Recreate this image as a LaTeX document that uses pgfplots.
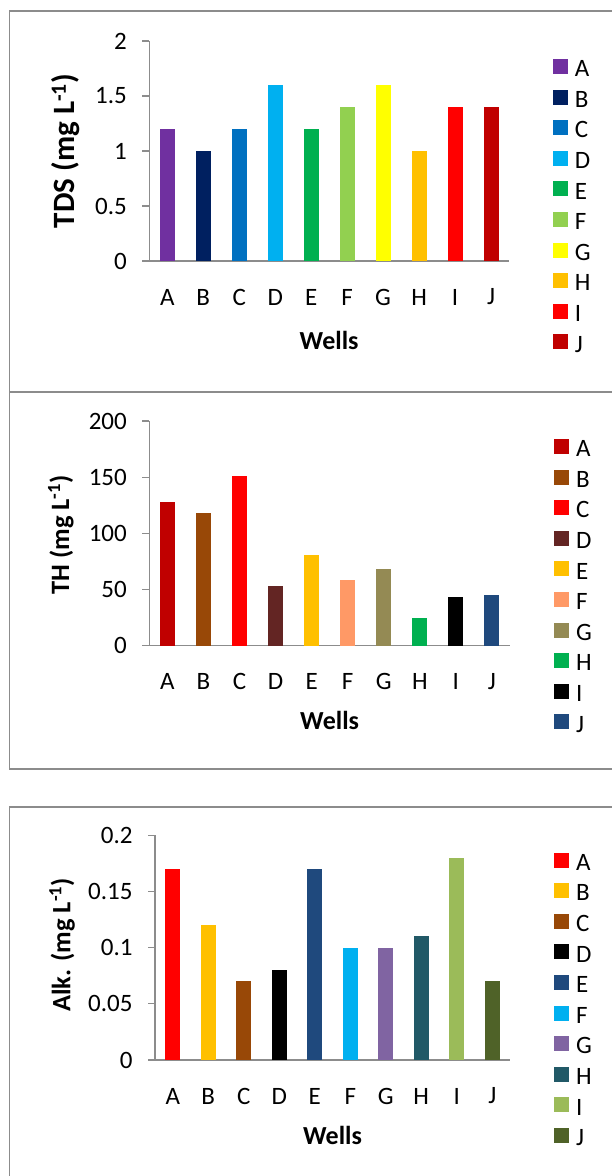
\documentclass[border=0pt]{standalone}
\usepackage{fontspec}
\setmainfont{Carlito}
\usepackage{pgfplots}
\pgfplotsset{compat=1.18}
\definecolor{framegray}{HTML}{8C8C8C}
\definecolor{axgray}{HTML}{8C8C8C}
% panel 1 colours
\definecolor{pA}{HTML}{7030A0}\definecolor{pB}{HTML}{002060}\definecolor{pC}{HTML}{0070C0}
\definecolor{pD}{HTML}{00B0F0}\definecolor{pE}{HTML}{00B050}\definecolor{pF}{HTML}{92D050}
\definecolor{pG}{HTML}{FFFF00}\definecolor{pH}{HTML}{FFC000}\definecolor{pI}{HTML}{FF0000}
\definecolor{pJ}{HTML}{C00000}
% panel 2 colours
\definecolor{qA}{HTML}{C00000}\definecolor{qB}{HTML}{984807}\definecolor{qC}{HTML}{FF0000}
\definecolor{qD}{HTML}{632523}\definecolor{qE}{HTML}{FFC000}\definecolor{qF}{HTML}{FF9966}
\definecolor{qG}{HTML}{948A54}\definecolor{qH}{HTML}{00B050}\definecolor{qI}{HTML}{000000}
\definecolor{qJ}{HTML}{1F497D}
% panel 3 colours
\definecolor{rA}{HTML}{FF0000}\definecolor{rB}{HTML}{FFC000}\definecolor{rC}{HTML}{984807}
\definecolor{rD}{HTML}{000000}\definecolor{rE}{HTML}{1F497D}\definecolor{rF}{HTML}{00B0F0}
\definecolor{rG}{HTML}{8064A2}\definecolor{rH}{HTML}{215967}\definecolor{rI}{HTML}{9BBB59}
\definecolor{rJ}{HTML}{4F6228}

\pgfplotsset{
  wellstyle/.style={
    scale only axis,
    anchor=south west,
    xmin=-0.5, xmax=9.5, ymin=0,
    ybar, bar width=15bp, bar shift=0pt,
    axis lines*=left,
    axis line style={draw=axgray, line width=1.3bp},
    ytick align=outside,
    major tick length=7bp,
    ytick style={draw=axgray, line width=1.3bp},
    xtick style={draw=none},
    xtick={0,...,9},
    xticklabels={A,B,C,D,E,F,G,H,I,J},
    tick label style={font=\fontsize{25bp}{29bp}\selectfont},
    xticklabel style={anchor=center, yshift=-29bp},
    yticklabel style={anchor=east, xshift=-12bp},
    xlabel={\textbf{Wells}},
    xlabel style={font=\fontsize{26bp}{30bp}\selectfont, anchor=center},
    ylabel style={anchor=center},
    legend cell align=left,
    legend style={draw=none, fill=none, anchor=north west,
      font=\fontsize{25bp}{29bp}\selectfont,
      row sep=0pt, inner sep=0pt,
      /tikz/every odd column/.append style={column sep=7bp},
      nodes={inner sep=0pt, text height=19bp, text depth=11.6bp}},
    legend image code/.code={\path[##1, draw=none] (0bp,-1bp) rectangle (15bp,14bp);},
    every axis plot/.append style={draw=none},
  },
}

\begin{document}
\begin{tikzpicture}
\useasboundingbox (0,0) rectangle (612bp,-1176bp);
\draw[framegray, line width=1.5bp] (9.5bp,-11bp) rectangle (640bp,-392bp);
\draw[framegray, line width=1.5bp] (9.5bp,-392bp) rectangle (640bp,-769bp);
\draw[framegray, line width=1.5bp] (9.5bp,-807bp) rectangle (640bp,-1200bp);

% ---------- Panel 1: TDS ----------
\begin{axis}[wellstyle,
  at={(149.3bp,-261bp)}, width=359.7bp, height=220bp,
  ymax=2, ytick={0,0.5,1,1.5,2}, yticklabels={0,0.5,1,1.5,2},
  xlabel style={at={(axis description cs:0.5,-0.359)}},
  ylabel={\textbf{TDS (mg L\textsuperscript{-1})}},
  ylabel style={font=\fontsize{31bp}{35bp}\selectfont, at={(axis description cs:-0.2316,0.5)}},
  legend style={at={(axis description cs:1.1215,0.925)}},
]
\addplot[fill=pA] coordinates {(0,1.2)};
\addplot[fill=pB] coordinates {(1,1.0)};
\addplot[fill=pC] coordinates {(2,1.2)};
\addplot[fill=pD] coordinates {(3,1.6)};
\addplot[fill=pE] coordinates {(4,1.2)};
\addplot[fill=pF] coordinates {(5,1.4)};
\addplot[fill=pG] coordinates {(6,1.6)};
\addplot[fill=pH] coordinates {(7,1.0)};
\addplot[fill=pI] coordinates {(8,1.4)};
\addplot[fill=pJ] coordinates {(9,1.4)};
\legend{A,B,C,D,E,F,G,H,I,J}
\end{axis}

% ---------- Panel 2: TH ----------
\begin{axis}[wellstyle,
  at={(149.3bp,-645.7bp)}, width=360.7bp, height=224.7bp,
  ymax=200, ytick={0,50,100,150,200}, yticklabels={0,50,100,150,200},
  xlabel style={at={(axis description cs:0.5,-0.331)}},
  ylabel={\textbf{TH (mg L\textsuperscript{-1})}},
  ylabel style={font=\fontsize{26.5bp}{30bp}\selectfont, at={(axis description cs:-0.245,0.493)}},
  legend style={at={(axis description cs:1.122,0.927)}},
]
\addplot[fill=qA] coordinates {(0,128)};
\addplot[fill=qB] coordinates {(1,118)};
\addplot[fill=qC] coordinates {(2,151)};
\addplot[fill=qD] coordinates {(3,53)};
\addplot[fill=qE] coordinates {(4,81)};
\addplot[fill=qF] coordinates {(5,58.5)};
\addplot[fill=qG] coordinates {(6,68)};
\addplot[fill=qH] coordinates {(7,25)};
\addplot[fill=qI] coordinates {(8,43.5)};
\addplot[fill=qJ] coordinates {(9,45)};
\legend{A,B,C,D,E,F,G,H,I,J}
\end{axis}

% ---------- Panel 3: Alk. ----------
\begin{axis}[wellstyle,
  at={(155bp,-1060bp)}, width=355bp, height=224.7bp,
  ymax=0.2, ytick={0,0.05,0.1,0.15,0.2}, yticklabels={0,0.05,0.1,0.15,0.2},
  xlabel style={at={(axis description cs:0.5,-0.338)}},
  ylabel={\textbf{Alk. (mg L\textsuperscript{-1})}},
  ylabel style={font=\fontsize{26.5bp}{30bp}\selectfont, at={(axis description cs:-0.262,0.512)}},
  legend style={at={(axis description cs:1.124,0.930)}},
]
\addplot[fill=rA] coordinates {(0,0.17)};
\addplot[fill=rB] coordinates {(1,0.12)};
\addplot[fill=rC] coordinates {(2,0.07)};
\addplot[fill=rD] coordinates {(3,0.08)};
\addplot[fill=rE] coordinates {(4,0.17)};
\addplot[fill=rF] coordinates {(5,0.10)};
\addplot[fill=rG] coordinates {(6,0.10)};
\addplot[fill=rH] coordinates {(7,0.11)};
\addplot[fill=rI] coordinates {(8,0.18)};
\addplot[fill=rJ] coordinates {(9,0.07)};
\legend{A,B,C,D,E,F,G,H,I,J}
\end{axis}
\end{tikzpicture}
\end{document}
